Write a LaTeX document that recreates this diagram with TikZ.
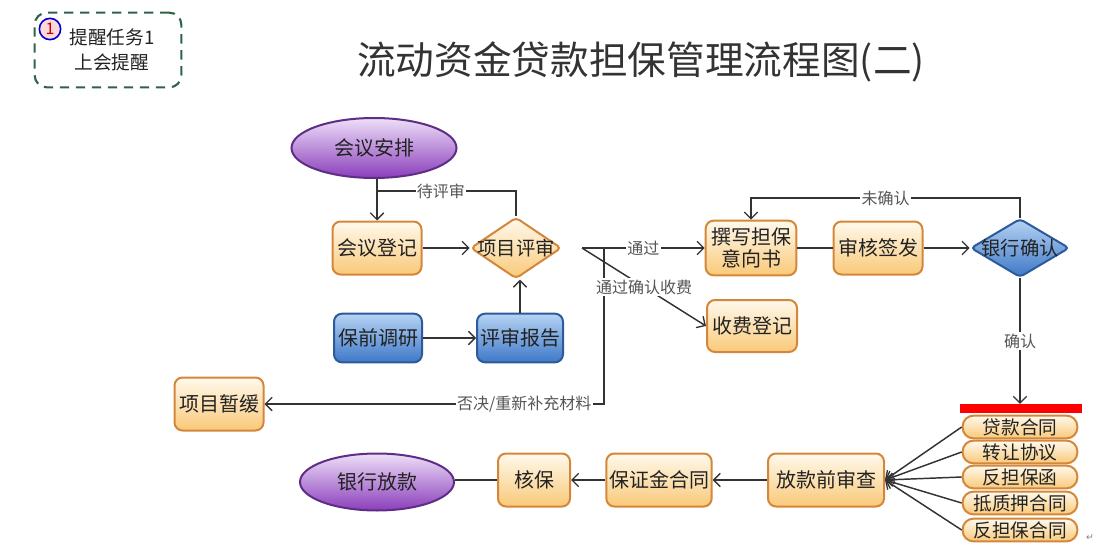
\documentclass[tikz,border=0pt]{standalone}
\usepackage{fontspec}
\setmainfont{Noto Sans CJK SC}
\newfontfamily\djv{DejaVu Sans}
\usetikzlibrary{arrows.meta,shapes.geometric}
\definecolor{lc}{HTML}{333333}
\definecolor{txt}{HTML}{222222}
\definecolor{lbl}{HTML}{555555}
\definecolor{obord}{HTML}{D4873A}
\definecolor{otop}{HTML}{FFF9EC}
\definecolor{obot}{HTML}{F9C979}
\definecolor{bbord}{HTML}{2D5B9A}
\definecolor{btop}{HTML}{B6D3F3}
\definecolor{bbot}{HTML}{3E78C8}
\definecolor{pbord}{HTML}{5E2D86}
\definecolor{ptop}{HTML}{EEDFF8}
\definecolor{pbot}{HTML}{8A3EBB}
\definecolor{gdash}{HTML}{2F6247}
\begin{document}
\begin{tikzpicture}[x=0.75pt,y=-0.75pt,
  line/.style={draw=lc, line width=1.1pt},
  arr/.style={line, -{Straight Barb[length=5pt,width=10pt,line width=1pt]}},
  nfont/.style={font=\fontsize{15}{17}\selectfont, text=txt},
  obox/.style={nfont, draw=obord, line width=1.5pt, rounded corners=6pt,
    top color=otop, bottom color=obot, minimum width=66.75pt, minimum height=39.75pt,
    align=center, inner sep=2pt},
  bbox/.style={nfont, draw=bbord, line width=1.5pt, rounded corners=6pt,
    top color=btop, bottom color=bbot, minimum width=66pt, minimum height=36.5pt,
    align=center, inner sep=2pt},
  pell/.style={nfont, ellipse, draw=pbord, line width=1.5pt,
    top color=ptop, bottom color=pbot, inner sep=0pt},
  odia/.style={diamond, draw=obord, line width=1.5pt, rounded corners=3pt,
    top color=otop, bottom color=obot, inner sep=0pt},
  bdia/.style={diamond, draw=bbord, line width=1.5pt, rounded corners=3pt,
    top color=btop, bottom color=bbot, inner sep=0pt},
  pill/.style={font=\fontsize{14}{16}\selectfont, text=txt, draw=obord, line width=1.5pt,
    rounded corners=8pt, top color=otop, bottom color=obot,
    minimum width=86pt, minimum height=17pt, inner sep=0pt},
  lab/.style={fill=white, inner sep=1pt, text=lbl, font=\fontsize{12}{14}\selectfont},
  dtext/.style={font=\fontsize{14.5}{16}\selectfont, text=txt, inner sep=0pt}
]
\useasboundingbox (0,0) rectangle (1108,553);

% reminder
\node[draw=gdash, line width=1.6pt, dash pattern=on 7pt off 5pt, rounded corners=9pt,
  minimum width=110pt, minimum height=56pt] (rem) at (108,50) {};
\node[font=\fontsize{14}{19}\selectfont, text=txt, align=center] (remt) at (112,50) {提醒任务1\\上会提醒};
\node[circle, draw=blue!80!black, line width=1.2pt, fill=pink!60, inner sep=0pt,
  minimum size=16pt, font=\fontsize{12}{12}\selectfont, text=red!75!black] (c1) at (50,29) {1};

% title
\node[font=\fontsize{29}{32}\selectfont, text=lc] (title) at (641,62) {流动资金贷款担保管理流程图(二)};

% nodes
\node[pell, minimum width=123.75pt, minimum height=45pt] (hyap) at (374,148) {会议安排};
\node[obox] (hydj) at (377,248) {会议登记};
\node[odia, minimum width=68pt, minimum height=46pt] (xmps) at (516,248) {};
\node[dtext] (xmpst) at (xmps.center) {项目评审};
\node[bbox] (bqdy) at (378,338) {保前调研};
\node[bbox, minimum width=64.5pt] (psbg) at (520,338) {评审报告};
\node[obox, minimum width=68pt, minimum height=41pt, inner sep=1pt] (zxdb) at (751,248) {撰写担保\\[-1pt]意向书};
\node[obox] (shqf) at (878,248) {审核签发};
\node[bdia, minimum width=74pt, minimum height=44pt] (yhqr) at (1020,248) {};
\node[dtext] (yhqrt) at (yhqr.center) {银行确认};
\node[obox, minimum width=67.5pt, minimum height=39pt] (sfdj) at (752,326) {收费登记};
\node[obox] (xmzh) at (219,404) {项目暂缓};

\node[fill=red, inner sep=0pt, minimum width=92pt, minimum height=6.5pt] (bar) at (1021,408.5) {};
\node[pill] (p1) at (1020,427) {贷款合同};
\node[pill] (p2) at (1020,452) {转让协议};
\node[pill] (p3) at (1020,477) {反担保函};
\node[pill] (p4) at (1020,503) {抵质押合同};
\node[pill] (p5) at (1020,530) {反担保合同};

\node[obox, minimum width=87pt] (fkq) at (826,480) {放款前审查};
\node[obox, minimum width=68pt] (bzj) at (659,480) {保证金合同};
\node[obox, minimum width=54pt] (hb) at (534,480) {核保};
\node[pell, minimum width=115.5pt, minimum height=42.75pt] (yhfk) at (377,482) {银行放款};

\node[text=gray, font=\djv\fontsize{7}{8}\selectfont, inner sep=0pt] (ret) at (1090,538) {↵};

% connectors
\coordinate (dps) at (377,191);
\draw[arr] (hydj.north |- hyap.south) -- (hydj.north);
\draw[line] (xmps.north) |- node[lab, pos=0.77]{待评审} (dps);
\draw[arr] (hydj.east) -- (xmps.west);
\draw[arr] (psbg.north) -- (psbg.north |- xmps.south);
\draw[arr] (bqdy.east) -- (psbg.west);

\coordinate (pj) at (582,248);
\coordinate (vj) at (604,248);
\coordinate (vb) at (604,404);
\draw[arr] (vj) -- (vb) -- node[lab, pos=0.235]{否决/重新补充材料} (xmzh.east);
\draw[arr] (pj) -- node[lab]{通过} (zxdb.west);
\draw[arr] (pj) -- node[lab, pos=0.5]{通过确认收费} (sfdj.west);

\draw[line] (zxdb.east) -- (shqf.west);
\draw[arr] (shqf.east) -- (yhqr.west);
\coordinate (ur) at (1020,198);
\draw[arr] (yhqr.north) -- (ur) -| node[lab, pos=0.25]{未确认} (zxdb.north);
\draw[arr] (yhqr.south) -- node[lab]{确认} (yhqr.south |- bar.north);

\foreach \p in {p1,p2,p3,p4,p5} \draw[arr] (\p.west) -- (fkq.east);
\draw[arr] (fkq.west) -- (bzj.east);
\draw[arr] (bzj.west) -- (hb.east);
\draw[line] (hb.west) -- (hb.west -| yhfk.east);
\end{tikzpicture}
\end{document}
